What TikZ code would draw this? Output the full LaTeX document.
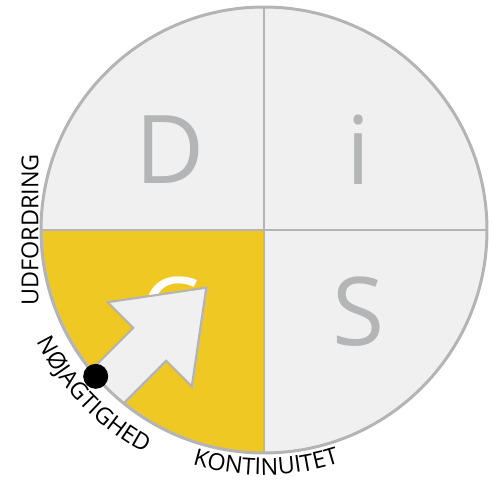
\documentclass[tikz,border=0pt]{standalone}
\usepackage{fontspec}
\setmainfont{Open Sans}
\usetikzlibrary{decorations.text}
\definecolor{discYellow}{HTML}{F0C823}
\definecolor{discGrey}{HTML}{F0F0F0}
\definecolor{discLine}{HTML}{B4B4B4}
\definecolor{discLetter}{HTML}{B4B5B6}
\newcommand\axisfont{\fontsize{13.3}{13.3}\selectfont}

\begin{document}
\begin{tikzpicture}[x=0.02cm,y=0.02cm,letter/.style={font=\fontsize{54}{54}\selectfont,text=discLetter,inner sep=0pt},rim/.style={draw=discLine,line width=1.7pt},curved/.style={postaction={decorate},decoration={text along path,text align=center,text={|\axisfont|#1}}}]
\useasboundingbox (-264,-254) rectangle (229,230);
% quadrants
\fill[discGrey] (0,0) circle (223);
\fill[discYellow] (0,0) -- (180:223) arc (180:270:223) -- cycle;
\node[letter] (d) at (-94,80) {D};
\node[letter] (i) at (94,80) {i};
\node[letter] (s) at (95,-82) {S};
\node[letter,text=white] (c) at (-94,-82) {C};
% arrow, cut by the rim
\begin{scope}
\clip (0,0) circle (223);
\draw[rim,fill=discGrey,line width=1.2pt,rotate=225] (81.6,0) -- (161.6,59.5) -- (161.6,23.2) -- (240,23.2) -- (240,-23.2) -- (161.6,-23.2) -- (161.6,-59.5) -- cycle;
\end{scope}
\draw[rim] (0,223) -- (0,-223) (-223,0) -- (223,0);
\draw[rim] (0,0) circle (223);
\fill (221:223) circle (12.5);
% axis labels
\node[font=\axisfont,rotate=90,inner sep=0pt] (udf) at (-234,0) {UDFORDRING};
\path[curved=NØJAGTIGHED] (194:253) arc (194:254:253);
\path[curved=KONTINUITET] (240:245) arc (240:301:245);
\end{tikzpicture}
\end{document}
